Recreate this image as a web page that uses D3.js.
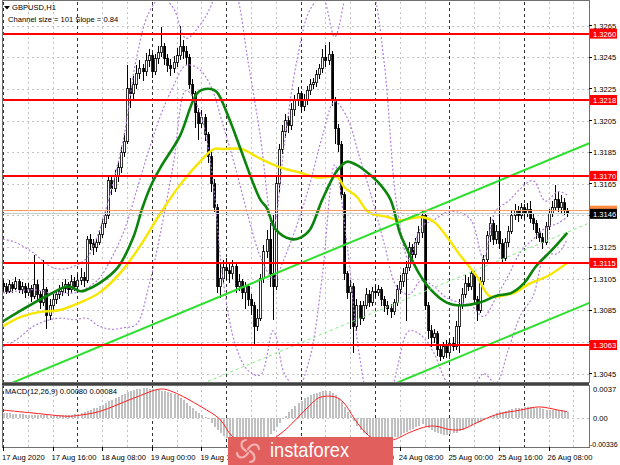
<!DOCTYPE html>
<html><head><meta charset="utf-8">
<script src="https://cdn.jsdelivr.net/npm/d3@7"></script>
<style>body{margin:0;background:#fff}svg{display:block}text{font-family:"Liberation Sans",Arial,sans-serif}</style>
</head><body><svg id="c" width="620" height="465"></svg>
<script>
// ---- data (prices in pips above 1.3000) ----
const firstOpen = 102;
const closes = [100,97,101,99,103,98,100,96,99,94,101,95,90,98,82,88,92,95,97,99,
101,98,103,100,104,106,104,130,127,125,128,133,140,145,167,162,170,175,185,192,
225,222,228,235,238,236,243,246,236,244,248,252,244,240,238,242,246,252,249,245,
228,222,210,203,207,196,182,165,150,100,105,112,110,108,113,100,103,96,100,92,
88,75,80,105,122,130,108,100,165,187,198,205,202,212,218,222,214,218,224,228,
229,234,238,245,243,247,218,200,190,158,108,96,100,75,88,80,88,95,90,97,
96,98,92,88,86,84,90,98,103,108,112,125,120,128,134,145,88,72,68,70,
60,56,62,58,64,62,75,88,95,102,100,108,92,85,103,117,132,140,130,135,
127,118,128,135,145,148,145,150,146,149,143,140,134,131,128,138,146,150,155,150,
153,148,146];
const highs = [104,102,104,103,106,105,103,102,102,101,120,104,97,117,100,92,95,98,101,103,
105,103,107,106,108,112,109,132,133,130,131,136,143,148,169,170,174,179,188,197,
240,232,233,240,243,241,248,250,248,247,252,264,254,247,244,246,251,265,256,252,
247,231,224,213,212,209,198,185,168,152,115,117,118,114,117,115,108,105,103,101,
95,90,86,108,126,136,140,145,170,190,202,209,208,216,221,226,224,222,227,231,
232,237,241,250,253,255,249,220,203,192,160,110,104,102,92,91,91,99,98,100,
101,101,100,94,91,89,92,101,107,112,116,128,127,131,138,148,146,90,76,73,
72,63,65,66,67,68,78,92,99,107,106,112,110,94,106,120,135,144,142,139,
169,130,131,138,148,152,151,153,152,153,154,146,142,137,134,141,149,154,164,160,
158,156,150];
const lows = [97,95,96,96,98,96,95,93,94,90,92,91,86,88,73,79,85,89,92,94,
96,94,96,97,98,101,100,102,123,120,122,126,131,137,143,158,160,166,172,182,
190,213,218,225,231,230,233,239,232,234,241,245,240,236,233,235,239,243,244,240,
225,217,200,193,200,192,178,160,147,96,93,102,104,102,105,96,97,92,86,88,
82,63,72,78,102,118,100,79,98,160,184,194,197,199,208,214,210,211,215,221,
225,226,231,235,239,240,214,190,185,155,104,92,73,58,72,76,78,86,87,88,
93,94,88,84,82,80,82,88,95,100,78,110,116,118,126,131,85,67,62,64,
56,53,54,55,56,59,60,58,86,93,97,98,89,78,83,101,115,128,126,127,
124,114,116,125,133,142,141,143,143,144,140,136,130,128,124,126,136,144,148,147,
146,145,144];

const greenBars = [0,5,15,21,25,27,31,37,42,45,48,51,57,63,67,69,73,77,83,85,88,93,96,99,103,108,111,114,117,121,125,128,130,134,138,143,148,154,159,164,168,172,177,182];
const greenVals = [78,84,95,100,97,98,102,112,131,150,165,176,195,223,225,223,206,185,155,150,136,130,131,136,155,174,179,177,173,166,155,134,125,109,98,90,88,90,94,96,102,113,123,134];
const yellowBars = [0,6,12,18,25,31,38,44,51,57,64,68,71,77,81,85,90,96,101,108,110,114,118,124,128,135,139,143,147,153,157,163,165,170,176,182];
const yellowVals = [75,81,84,85,90,96,109,125,147,164,180,187,187,187,183,179,175,172,169,169,163,157,147,144,142,144,141,132,121,106,94,95,96,102,107,115];

// Bollinger-type dotted bands (read at sample bars)
const bandBars = [0,4,10,15,19,23,27,31,35,39,43,47,51,55,59,63,67,71,75,79,83,87,88,91,95,99,103,107,111,115,119,123,127,131,135,139,143,147,151,155,159,163,167,171,175,179,182];
const bandMid  = [96,97,98,96,96,96,99,105,118,135,160,186,209,227,240,238,227,202,175,145,119,105,106,119,140,165,195,217,207,182,156,127,100,95,104,100,93,90,88,81,93,107,122,130,137,140,144];
const bandUp   = [130,128,121,113,111,113,118,135,162,195,244,273,283,276,257,264,277,300,287,243,195,137,143,194,245,275,283,258,288,307,291,241,152,117,138,142,147,147,142,118,148,154,162,167,154,160,158];
const bandLow  = [62,66,75,79,80,79,80,75,73,74,76,100,136,178,224,213,178,104,63,47,44,72,69,44,36,55,107,177,126,56,21,14,47,72,69,58,40,33,34,45,39,60,82,94,120,121,130];

const channelBars = [0,190];
const channelUpper = [36.7,191.4];
const channelWidth = 101;

const levels = [260,218,170,115,63];
const levelLabels = ["1.3260","1.3218","1.3170","1.3115","1.3063"];
const lastLevel = 148, lastLabel = "1.3148";
const bidLevel = 146, bidLabel = "1.3146";

const priceTicks = [1.3045,1.3065,1.3085,1.3105,1.3125,1.3145,1.3165,1.3185,1.3205,1.3225,1.3245,1.3265];

const macdHist = [6,6,6,5,5,5,5,4,4,4,4,
4,3,3,3,2,2,3,3,3,4,4,4,5,5,
6,7,9,10,12,13,15,17,19,
21,23,25,27,29,31,33,35,36,
37,37,38,38,37,37,36,36,35,34,33,32,31,
29,26,23,19,
15,12,9,6,3,1,-2,-7,-12,-16,-20,-23,-26,
-28,-30,-31,-32,-33,-33,-33,-33,-32,-31,-30,-28,
-25,-21,-17,-12,-7,-2,
2,7,11,15,19,22,
25,27,29,31,32,33,34,34,34,
32,29,25,20,14,8,2,
-4,-10,-15,-19,-22,-25,-27,-28,
-29,-29,-28,-27,-26,-25,-24,
-22,-20,-18,-16,-14,-12,-10,-8,
-10,-13,-16,-18,-20,-21,-22,-22,-21,-20,-19,
-17,-15,-13,-11,-9,-8,-7,-5,-3,-1,
2,4,6,7,8,9,10,11,12,13,13,14,14,14,
13,13,12,11,10,10,10,10,10,10,9,8];
const signalBars = [0,10,21,24,31,42,51,55,64,70,74,79,85,90,99,102,107,110,113,116,120,126,128,131,137,140,144,148,153,159,167,173,179,182];
const signalVals = [10,6,2,3,8,25,37,33,14,-2,-24,-33,-31,-19,16,26,27,19,1,-15,-28,-28,-25,-19,-11,-11,-15,-15,-6,4,10,14,10,8];
const macdTicks = [0.0037,0,-0.00336];
const macdTickLabels = ["0.0037","0.00","-0.00336"];

const timeLabelBars = [0,16,32,48,64,80,96,112,128,144,160,176];
const timeLabels = ["17 Aug 2020","17 Aug 16:00","18 Aug 08:00","19 Aug 00:00","19 Aug 16:00","20 Aug 08:00","21 Aug 00:00","21 Aug 16:00","24 Aug 08:00","25 Aug 00:00","25 Aug 16:00","26 Aug 08:00"];

// ---- drawing ----
const P = v => 1.3 + v/10000;
const svg = d3.select("#c");
const L=2, R=589, T=2, B=383, MT=385, MB=447;
const x = d3.scaleLinear().domain([0,190]).range([3, 3+3.1*190]);
const y = d3.scaleLinear().domain([1.3039,1.3280]).range([B,T]);
const ym = d3.scaleLinear().domain([-0.00336,0.0037]).range([444,389]);

svg.append("rect").attr("width",620).attr("height",465).attr("fill","#fff");
const defs = svg.append("defs");
defs.append("clipPath").attr("id","cp").append("rect").attr("x",L).attr("y",T).attr("width",R-L).attr("height",B-T);
defs.append("clipPath").attr("id","cm").append("rect").attr("x",L).attr("y",MT).attr("width",R-L).attr("height",MB-MT);

// grid
const g = svg.append("g").attr("shape-rendering","crispEdges");
priceTicks.forEach(t=>{
  g.append("line").attr("x1",L).attr("x2",R).attr("y1",Math.round(y(t))+0.5).attr("y2",Math.round(y(t))+0.5)
   .attr("stroke","#c4c4c4").attr("stroke-dasharray","2,3");
});
g.append("line").attr("x1",L).attr("x2",R).attr("y1",Math.round(ym(0))+0.5).attr("y2",Math.round(ym(0))+0.5)
   .attr("stroke","#c4c4c4").attr("stroke-dasharray","2,3");
d3.range(0,190,8).forEach(b=>{
  const sep = b%24===0;
  const xx = Math.round(x(b))+0.5;
  [[T,B],[MT,MB]].forEach(([a,c])=>{
    g.append("line").attr("x1",xx).attr("x2",xx).attr("y1",a).attr("y2",c)
     .attr("stroke", sep?"#333":"#c4c4c4").attr("stroke-dasharray", sep?"3,3":"2,3");
  });
});

// candles
const cg = svg.append("g").attr("clip-path","url(#cp)").attr("shape-rendering","crispEdges");
closes.forEach((c,i)=>{
  const o = i===0?firstOpen:closes[i-1];
  const xx = Math.round(x(i));
  cg.append("line").attr("x1",xx+0.5).attr("x2",xx+0.5).attr("y1",y(P(highs[i]))).attr("y2",y(P(lows[i]))).attr("stroke","#000");
  const top = y(P(Math.max(o,c))), bot = y(P(Math.min(o,c)));
  cg.append("rect").attr("x",xx-0.5).attr("width",2).attr("y",top).attr("height",Math.max(1,bot-top))
    .attr("fill", c>=o?"#fff":"#000").attr("stroke","#000").attr("stroke-width",0.8);
});

// indicators
const pg = svg.append("g").attr("clip-path","url(#cp)");
const line = d3.line().curve(d3.curveCatmullRom.alpha(0.5));
[bandUp, bandMid, bandLow].forEach(arr=>{
  pg.append("path").attr("d", line(bandBars.map((b,i)=>[x(b), y(P(arr[i]))])))
    .attr("fill","none").attr("stroke","#b07fdc").attr("stroke-width",1.2).attr("stroke-dasharray","2,2");
});
pg.append("path").attr("d", line(yellowBars.map((b,i)=>[x(b), y(P(yellowVals[i]))])))
  .attr("fill","none").attr("stroke","#f6e600").attr("stroke-width",2.4);
pg.append("path").attr("d", line(greenBars.map((b,i)=>[x(b), y(P(greenVals[i]))])))
  .attr("fill","none").attr("stroke","#0a840a").attr("stroke-width",2.6);

// channel
const chan = off => channelBars.map((b,i)=>[x(b), y(P(channelUpper[i]-off))]);
pg.append("path").attr("d", d3.line()(chan(0))).attr("stroke","#2ee02e").attr("stroke-width",2).attr("fill","none");
pg.append("path").attr("d", d3.line()(chan(channelWidth))).attr("stroke","#2ee02e").attr("stroke-width",2).attr("fill","none");
pg.append("path").attr("d", d3.line()(chan(channelWidth/2))).attr("stroke","#7fee7f").attr("stroke-width",1).attr("stroke-dasharray","3,3").attr("fill","none");

// horizontal levels
const lg = svg.append("g").attr("shape-rendering","crispEdges");
lg.append("line").attr("x1",L).attr("x2",R).attr("y1",y(P(bidLevel))).attr("y2",y(P(bidLevel))).attr("stroke","#c8c8c8").attr("stroke-width",1);
lg.append("line").attr("x1",L).attr("x2",R).attr("y1",y(P(lastLevel))).attr("y2",y(P(lastLevel))).attr("stroke","#ff9a5a").attr("stroke-width",1.2);
levels.forEach(v=>{
  lg.append("line").attr("x1",L).attr("x2",R).attr("y1",y(P(v))).attr("y2",y(P(v))).attr("stroke","#ff0000").attr("stroke-width",2);
});

// MACD
const mg = svg.append("g").attr("clip-path","url(#cm)").attr("shape-rendering","crispEdges");
macdHist.forEach((v,i)=>{
  const a = ym(0), b = ym(v/10000);
  mg.append("rect").attr("x",Math.round(x(i))-0.5).attr("width",2).attr("y",Math.min(a,b)).attr("height",Math.max(0.5,Math.abs(b-a))).attr("fill","#c0c0c0");
});
svg.append("g").attr("clip-path","url(#cm)").append("path")
  .attr("d", line(signalBars.map((b,i)=>[x(b), ym(signalVals[i]/10000)])))
  .attr("fill","none").attr("stroke","#ff2020").attr("stroke-width",1);

// frame
const fr = svg.append("g").attr("shape-rendering","crispEdges").attr("fill","none");
fr.append("rect").attr("x",L+0.5).attr("y",T-1.5).attr("width",R-L).attr("height",B-T+1).attr("stroke","#707070");
fr.append("line").attr("x1",L).attr("x2",R).attr("y1",B+1).attr("y2",B+1).attr("stroke","#404040").attr("stroke-width",2);
fr.append("rect").attr("x",L+0.5).attr("y",MT+0.5).attr("width",R-L).attr("height",MB-MT).attr("stroke","#707070");

// price axis
const ax = svg.append("g").attr("font-size","7.6px");
priceTicks.forEach(t=>{
  ax.append("line").attr("x1",R).attr("x2",R+3).attr("y1",y(t)).attr("y2",y(t)).attr("stroke","#000").attr("shape-rendering","crispEdges");
  ax.append("text").attr("x",R+4).attr("y",y(t)+3).text(d3.format(".4f")(t));
});
function box(v,label,fill){
  const yy = y(P(v));
  ax.append("rect").attr("x",R+1).attr("y",yy-5).attr("width",27).attr("height",10).attr("fill",fill);
  ax.append("text").attr("x",R+4).attr("y",yy+3).attr("fill","#fff").text(label);
}
levels.forEach((v,i)=>box(v,levelLabels[i],"#ff0000"));
box(lastLevel,lastLabel,"#ff8c40");
box(bidLevel,bidLabel,"#000");
macdTicks.forEach((t,i)=>{
  ax.append("text").attr("x",t<0?R+1:R+4).attr("y",ym(t)+3).attr("font-size",t<0?"7px":null).text(macdTickLabels[i]);
});

// time axis
timeLabelBars.forEach((b,i)=>{
  ax.append("line").attr("x1",Math.round(x(b))+0.5).attr("x2",Math.round(x(b))+0.5).attr("y1",MB).attr("y2",MB+4).attr("stroke","#000").attr("shape-rendering","crispEdges");
  ax.append("text").attr("x",x(b)-1).attr("y",460).text(timeLabels[i]);
});

// titles
const tt = svg.append("g").attr("font-size","7.6px");
tt.append("path").attr("d","M4,6 L10,6 L7,9.5 Z").attr("fill","#000");
tt.append("text").attr("x",12).attr("y",10).text("GBPUSD,H1");
tt.append("text").attr("x",8).attr("y",21.5).text("Channel size = 101 Slope = 0.84");
tt.append("text").attr("x",5).attr("y",393.5).text("MACD(12,26,9) 0.00080 0.00084");

// logo
const lo = svg.append("g");
lo.append("rect").attr("x",228).attr("y",437).attr("width",165).attr("height",28).attr("fill","#e15f5d");
const ic = lo.append("g").attr("transform","translate(248,451)").attr("fill","none").attr("stroke","#f6b4b2").attr("stroke-width",2.2).attr("stroke-linecap","round");
[0,90,180,270].forEach(a=>{
  ic.append("path").attr("d","M0,-2 C4,-8 10,-8 11,-2").attr("transform",`rotate(${a})`);
});
lo.append("text").attr("x",270).attr("y",457).attr("fill","#fff").attr("font-size","21px")
  .attr("font-family","'Open Sans',sans-serif").attr("font-weight",300).attr("textLength",79).attr("lengthAdjust","spacingAndGlyphs").text("instaforex");
</script></body></html>
